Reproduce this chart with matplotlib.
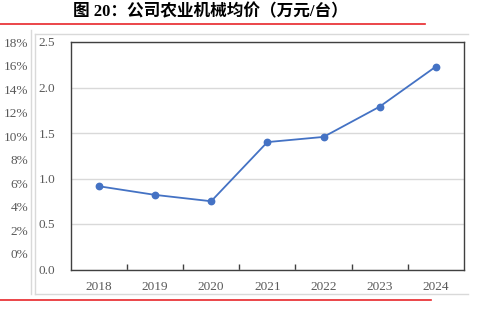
import matplotlib
matplotlib.use("Agg")
import matplotlib.pyplot as plt
from matplotlib.lines import Line2D
import numpy as np

years = ["2018", "2019", "2020", "2021", "2022", "2023", "2024"]
avg_price = [0.915, 0.82, 0.75, 1.40, 1.457, 1.79, 2.23]
pct_ticks = [0, 2, 4, 6, 8, 10, 12, 14, 16, 18]
y_ticks = [0.0, 0.5, 1.0, 1.5, 2.0, 2.5]
title = "图 20：公司农业机械均价（万元/台）"

W, H = 479, 314
fig = plt.figure(figsize=(W / 100, H / 100), dpi=100)

def fx(x):
    return x / W

def fy(y):
    return 1 - y / H

serif = ["Liberation Serif", "Noto Sans CJK SC"]
gray_txt = "#595959"

# Title
fig.text(fx(210), fy(12), title, ha="center", va="center", fontsize=12,
         fontweight="bold", family=serif, color="black")

# Decorative frame lines
def hline(y, x0, x1, color, lw=1.0):
    fig.add_artist(Line2D([fx(x0), fx(x1)], [fy(y), fy(y)], color=color, lw=lw,
                          transform=fig.transFigure))

def vline(x, y0, y1, color, lw=1.0):
    fig.add_artist(Line2D([fx(x), fx(x)], [fy(y0), fy(y1)], color=color, lw=lw,
                          transform=fig.transFigure))

hline(24, 0, 425, "#e8262a", 1.2)
hline(300, 0, 431, "#e8262a", 1.2)
lg = "#d9d9d9"
hline(33.5, 35, 468, lg)
hline(294, 35, 468, lg)
vline(31, 30, 294, lg)
vline(35, 33.5, 294, lg)

# Main axes
left, right, top, bottom = 70.7, 464, 42, 269.5
ax = fig.add_axes([fx(left), fy(bottom), fx(right - left), (bottom - top) / H])
x = np.arange(len(years))
ax.plot(x, avg_price, color="#4472C4", lw=1.3, marker="o", ms=4.6, zorder=3)
ax.set_xlim(-0.5, len(years) - 0.5)
ax.set_ylim(0, 2.5)
ax.set_yticks(y_ticks)
ax.set_yticklabels([f"{v:.1f}" for v in y_ticks], family=serif, fontsize=9.5, color=gray_txt)
ax.set_xticks(x)
ax.set_xticklabels(years, family=serif, fontsize=9.5, color=gray_txt)
ax.set_xticks(np.arange(0.5, len(years) - 1, 1.0), minor=True)
ax.tick_params(axis="x", which="major", length=0, pad=8)
ax.tick_params(axis="x", which="minor", direction="in", length=4, width=1, color="#404040")
ax.tick_params(axis="y", length=0, pad=11)
ax.grid(axis="y", color="#d9d9d9", lw=1)
ax.set_axisbelow(True)
for s in ax.spines.values():
    s.set_color("#404040")
    s.set_linewidth(1.0)

# Secondary percent scale on the far left
pt, pb = 42.3, 254
ax2 = fig.add_axes([fx(31), fy(pb), fx(2), (pb - pt) / H])
ax2.set_ylim(0, 18)
ax2.set_yticks(pct_ticks)
ax2.set_yticklabels([f"{v}%" for v in pct_ticks], family=serif, fontsize=9.5, color=gray_txt)
ax2.tick_params(axis="y", length=0, pad=2)
ax2.set_xticks([])
for s in ax2.spines.values():
    s.set_visible(False)
ax2.patch.set_alpha(0)

fig.savefig("out.png", dpi=100)
